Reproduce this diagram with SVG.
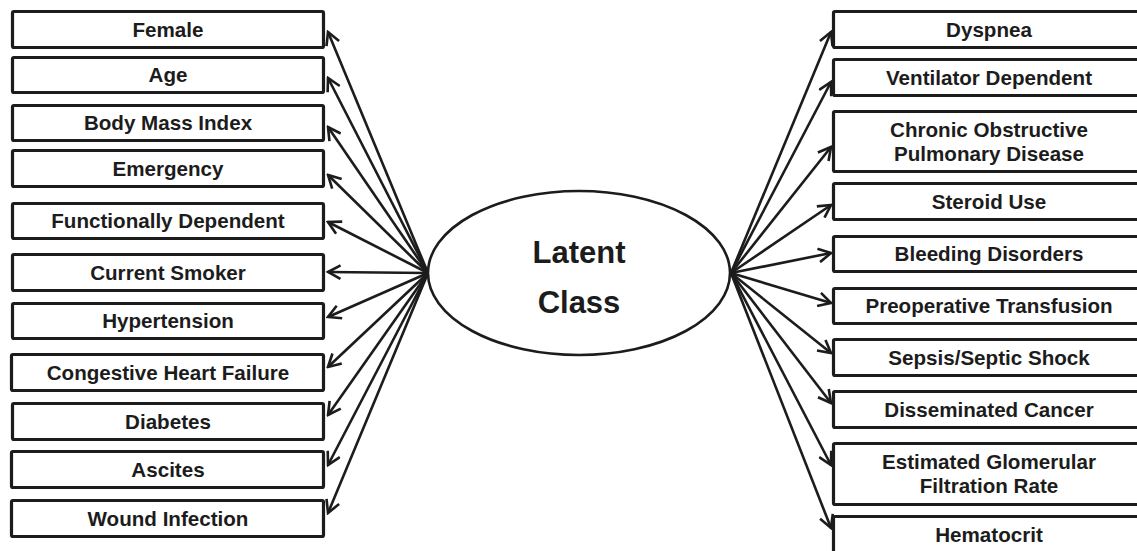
<svg xmlns="http://www.w3.org/2000/svg" width="1137" height="551" viewBox="0 0 1137 551">
  <style>
    .box { fill: #ffffff; stroke: #1c1c1c; stroke-width: 3.2; }
    .lbl { font-family: "Liberation Sans", Arial, sans-serif; font-weight: bold; font-size: 20.6px; fill: #1c1c1c; text-anchor: middle; }
    .big { font-size: 31px; }
    .edge { stroke: #1c1c1c; stroke-width: 2.6; fill: none; marker-end: url(#head); }
  </style>
  <defs>
    <marker id="head" markerUnits="userSpaceOnUse" viewBox="0 0 16 16" markerWidth="16" markerHeight="16" refX="14" refY="8" orient="auto">
      <path d="M1.5,1.2 L14,8 L1.5,14.8" fill="none" stroke="#1c1c1c" stroke-width="2.6" stroke-linejoin="miter"/>
    </marker>
  </defs>
  <rect width="1137" height="551" fill="#ffffff"/>

  <!-- connectors from the latent class to each indicator -->
  <g id="connectors">
    <line class="edge" x1="428" y1="273" x2="328" y2="32"/>
    <line class="edge" x1="428" y1="273" x2="328" y2="78"/>
    <line class="edge" x1="428" y1="273" x2="328" y2="127"/>
    <line class="edge" x1="428" y1="273" x2="328" y2="175"/>
    <line class="edge" x1="428" y1="273" x2="328" y2="222"/>
    <line class="edge" x1="428" y1="273" x2="328" y2="272"/>
    <line class="edge" x1="428" y1="273" x2="328" y2="317"/>
    <line class="edge" x1="428" y1="273" x2="328" y2="367"/>
    <line class="edge" x1="428" y1="273" x2="328" y2="415"/>
    <line class="edge" x1="428" y1="273" x2="328" y2="465"/>
    <line class="edge" x1="428" y1="273" x2="328" y2="513"/>

    <line class="edge" x1="731" y1="273" x2="831" y2="32"/>
    <line class="edge" x1="731" y1="273" x2="831" y2="82"/>
    <line class="edge" x1="731" y1="273" x2="831" y2="147"/>
    <line class="edge" x1="731" y1="273" x2="831" y2="205"/>
    <line class="edge" x1="731" y1="273" x2="831" y2="253"/>
    <line class="edge" x1="731" y1="273" x2="831" y2="303"/>
    <line class="edge" x1="731" y1="273" x2="831" y2="353"/>
    <line class="edge" x1="731" y1="273" x2="831" y2="403"/>
    <line class="edge" x1="731" y1="273" x2="831" y2="465"/>
    <line class="edge" x1="731" y1="273" x2="831" y2="528"/>
  </g>

  <!-- central latent variable -->
  <g id="latent-class">
    <ellipse cx="579" cy="273" rx="151" ry="82" fill="#ffffff" stroke="#1c1c1c" stroke-width="2.6"/>
    <text class="lbl big" x="579" y="263">Latent</text>
    <text class="lbl big" x="579" y="313">Class</text>
  </g>

  <!-- left indicators -->
  <g id="female"><rect class="box" x="12.5" y="11.5" width="311" height="36" rx="1.5"/><text class="lbl" x="168" y="36.5">Female</text></g>
  <g id="age"><rect class="box" x="12.5" y="57.5" width="311" height="35" rx="1.5"/><text class="lbl" x="168" y="82">Age</text></g>
  <g id="bmi"><rect class="box" x="12.5" y="105.5" width="311" height="35" rx="1.5"/><text class="lbl" x="168" y="130">Body Mass Index</text></g>
  <g id="emergency"><rect class="box" x="12.5" y="150.5" width="311" height="36" rx="1.5"/><text class="lbl" x="168" y="175.5">Emergency</text></g>
  <g id="functionally-dependent"><rect class="box" x="12.5" y="203.5" width="311" height="35" rx="1.5"/><text class="lbl" x="168" y="228">Functionally Dependent</text></g>
  <g id="current-smoker"><rect class="box" x="12.5" y="254.5" width="311" height="36" rx="1.5"/><text class="lbl" x="168" y="279.5">Current Smoker</text></g>
  <g id="hypertension"><rect class="box" x="12.5" y="303.5" width="311" height="35" rx="1.5"/><text class="lbl" x="168" y="328">Hypertension</text></g>
  <g id="chf"><rect class="box" x="11.5" y="354.5" width="312" height="36" rx="1.5"/><text class="lbl" x="168" y="379.5">Congestive Heart Failure</text></g>
  <g id="diabetes"><rect class="box" x="12.5" y="403.5" width="311" height="36" rx="1.5"/><text class="lbl" x="168" y="428.5">Diabetes</text></g>
  <g id="ascites"><rect class="box" x="11.5" y="451.5" width="312" height="36" rx="1.5"/><text class="lbl" x="168" y="476.5">Ascites</text></g>
  <g id="wound-infection"><rect class="box" x="11.5" y="500.5" width="312" height="36" rx="1.5"/><text class="lbl" x="168" y="525.5">Wound Infection</text></g>

  <!-- right indicators -->
  <g id="dyspnea"><rect class="box" x="833.5" y="11.5" width="313" height="36" rx="1.5"/><text class="lbl" x="989" y="36.5">Dyspnea</text></g>
  <g id="ventilator-dependent"><rect class="box" x="833.5" y="59.5" width="313" height="36" rx="1.5"/><text class="lbl" x="989" y="84.5">Ventilator Dependent</text></g>
  <g id="copd"><rect class="box" x="833.5" y="111.5" width="313" height="60" rx="1.5"/><text class="lbl" x="989" y="137">Chronic Obstructive</text><text class="lbl" x="989" y="161">Pulmonary Disease</text></g>
  <g id="steroid-use"><rect class="box" x="833.5" y="183.5" width="313" height="36" rx="1.5"/><text class="lbl" x="989" y="208.5">Steroid Use</text></g>
  <g id="bleeding-disorders"><rect class="box" x="833.5" y="236.5" width="313" height="35" rx="1.5"/><text class="lbl" x="989" y="261">Bleeding Disorders</text></g>
  <g id="preoperative-transfusion"><rect class="box" x="833.5" y="288.5" width="313" height="35" rx="1.5"/><text class="lbl" x="989" y="313">Preoperative Transfusion</text></g>
  <g id="sepsis"><rect class="box" x="833.5" y="339.5" width="313" height="36" rx="1.5"/><text class="lbl" x="989" y="364.5">Sepsis/Septic Shock</text></g>
  <g id="disseminated-cancer"><rect class="box" x="833.5" y="391.5" width="313" height="36" rx="1.5"/><text class="lbl" x="989" y="416.5">Disseminated Cancer</text></g>
  <g id="egfr"><rect class="box" x="833.5" y="443.5" width="313" height="61" rx="1.5"/><text class="lbl" x="989" y="469">Estimated Glomerular</text><text class="lbl" x="989" y="493">Filtration Rate</text></g>
  <g id="hematocrit"><rect class="box" x="833.5" y="516.5" width="313" height="60" rx="1.5"/><text class="lbl" x="989" y="542">Hematocrit</text></g>
</svg>
